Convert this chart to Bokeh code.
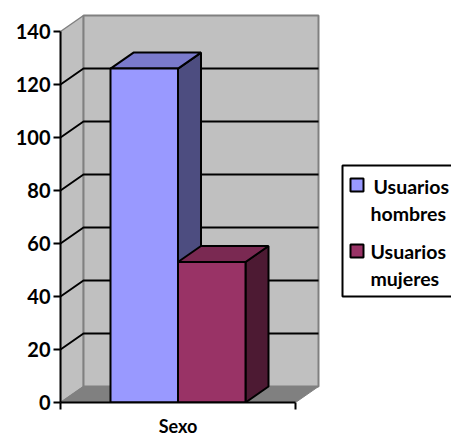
from bokeh.plotting import figure
from bokeh.models import Range1d, FixedTicker
from bokeh.core.properties import value
from bokeh.embed import file_html
from bokeh.resources import INLINE

# Data
category = "Sexo"
series_names = ["Usuarios hombres", "Usuarios mujeres"]
legend_lines = [["Usuarios", "hombres"], ["Usuarios", "mujeres"]]
series_values = [126, 53]
y_ticks = [0, 20, 40, 60, 80, 100, 120, 140]
front_colors = ["#9999FF", "#993366"]
top_colors = ["#7A7ACC", "#7A2952"]
side_colors = ["#4D4D80", "#4D1A33"]

# Layout / 3D style (pixels on the page)
PX_X0, PX_W = 60, 235
PX_Y0, PX_PER_UNIT = 402, 371 / 140
DX = 23 / PX_W
DY = 16 / PX_PER_UNIT
BAR_W = 67.5 / PX_W
YMAX = 140
WALL = "#C0C0C0"
FLOOR = "#808080"
FONT = "Lato"


def lx(px):
    return (px - PX_X0) / PX_W


def ly(px):
    return (PX_Y0 - px) / PX_PER_UNIT


p = figure(width=451, height=436, output_backend="svg", toolbar_location=None,
           frame_width=391, frame_height=402,
           x_range=Range1d(0, 391 / PX_W), y_range=Range1d(0, 402 / PX_PER_UNIT),
           min_border_left=60, min_border_right=0, min_border_top=0, min_border_bottom=34,
           outline_line_color=None, background_fill_color="white")
p.grid.visible = False

# Walls and floor
p.patch([0, DX, DX, 0], [0, DY, YMAX + DY, YMAX], fill_color=WALL, line_color=FLOOR, line_width=1.5)
p.patch([DX, 1 + DX, 1 + DX, DX], [DY, DY, YMAX + DY, YMAX + DY], fill_color=WALL, line_color=FLOOR, line_width=2)
p.patch([0, 1, 1 + DX, DX], [0, 0, DY, DY], fill_color=FLOOR, line_color=FLOOR, line_width=1)

# Grid lines on side and back walls
for t in y_ticks[1:-1]:
    p.line([0, DX, 1 + DX], [t, t + DY, t + DY], line_color="black", line_width=2)

# Bars
start = (1 - BAR_W * len(series_values)) / 2
for i, v in enumerate(series_values):
    x0 = start + i * BAR_W
    x1 = x0 + BAR_W
    p.patch([x1, x1 + DX, x1 + DX, x1], [0, DY, v + DY, v],
            fill_color=side_colors[i], line_color="black", line_width=2)
    p.patch([x0, x1, x1 + DX, x0 + DX], [v, v, v + DY, v + DY],
            fill_color=top_colors[i], line_color="black", line_width=2)
    p.quad(left=x0, right=x1, bottom=0, top=v,
           fill_color=front_colors[i], line_color="black", line_width=2)

# Axes
ya = p.yaxis[0]
ya.ticker = FixedTicker(ticks=y_ticks)
ya.bounds = (0, YMAX)
ya.axis_line_color = "black"
ya.axis_line_width = 2
ya.major_tick_line_color = "black"
ya.major_tick_line_width = 2
ya.major_tick_out = 7
ya.major_tick_in = 0
ya.minor_tick_line_color = None
ya.major_label_text_font = FONT
ya.major_label_text_font_style = "bold"
ya.major_label_text_font_size = "20px"
ya.major_label_text_color = "black"
ya.major_label_standoff = 3

xa = p.xaxis[0]
xa.ticker = FixedTicker(ticks=[0.5], minor_ticks=[0, 1])
xa.major_label_overrides = {0.5: category}
xa.bounds = (0, 1)
xa.axis_line_color = "black"
xa.axis_line_width = 2
xa.major_tick_line_color = None
xa.major_tick_out = 0
xa.major_tick_in = 0
xa.minor_tick_line_color = "black"
xa.minor_tick_line_width = 2
xa.minor_tick_out = 7
xa.minor_tick_in = 0
xa.major_label_text_font = FONT
xa.major_label_text_font_style = "bold"
xa.major_label_text_font_size = "18px"
xa.major_label_text_color = "black"
xa.major_label_standoff = 5

# Legend, drawn in the frame so its line spacing can follow the reference
p.quad(left=lx(342), right=lx(470), bottom=ly(296), top=ly(165),
       fill_color="white", line_color="black", line_width=2)
marker_tops = [178, 244]
line_ys = [[186, 213], [251, 278]]
line_xs = [[373, 370], [370, 370]]
for i in range(len(series_names)):
    p.quad(left=lx(350), right=lx(363), top=ly(marker_tops[i]), bottom=ly(marker_tops[i] + 13),
           fill_color=front_colors[i], line_color="black", line_width=2)
    for txt, tx, ty in zip(legend_lines[i], line_xs[i], line_ys[i]):
        p.text(x=[lx(tx)], y=[ly(ty)], text=[txt], text_font=value(FONT),
               text_font_style="bold", text_font_size="19.5px", text_color="black",
               text_baseline="middle", text_align="left")

open("out.html", "w").write(file_html(p, INLINE))
